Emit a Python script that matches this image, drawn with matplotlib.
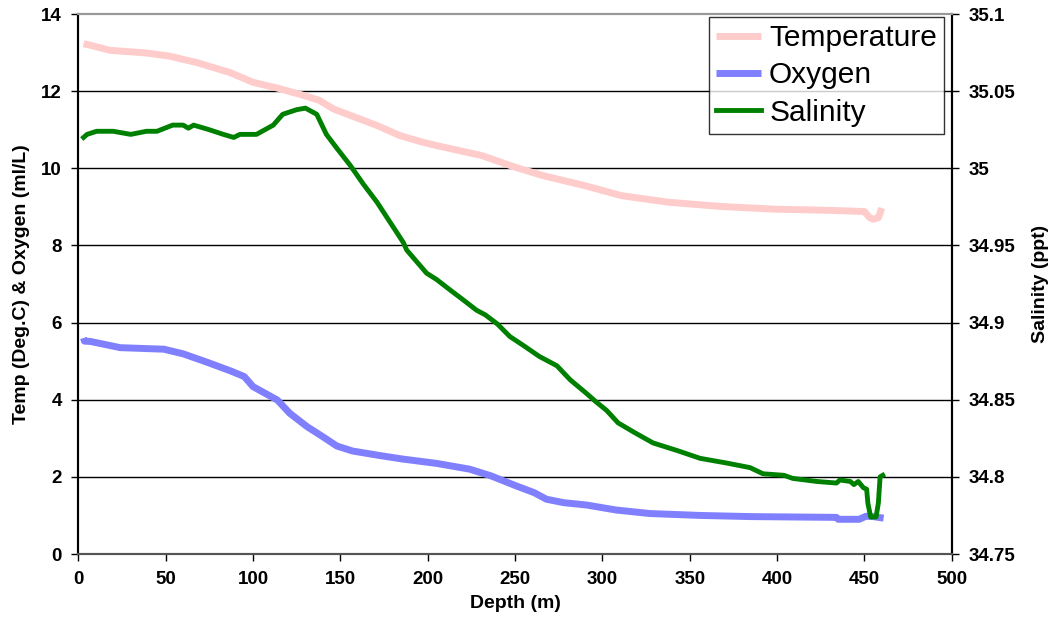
import matplotlib.pyplot as plt

plt.rcParams['font.family'] = ['Liberation Sans', 'DejaVu Sans']

# Temperature profile (Deg.C)
temp_depth = [3, 7, 18, 39, 52, 68, 87, 100, 114, 129, 138, 146, 157, 171, 184,
              196, 205, 231, 250, 266, 290, 311, 338, 368, 399, 430, 450, 453,
              455, 458, 460]
temp = [13.23, 13.19, 13.06, 12.99, 12.91, 12.74, 12.48, 12.23, 12.08, 11.89,
        11.76, 11.54, 11.35, 11.11, 10.85, 10.69, 10.59, 10.33, 10.03, 9.81,
        9.55, 9.29, 9.12, 9.01, 8.94, 8.91, 8.88, 8.72, 8.68, 8.72, 8.97]

# Oxygen profile (ml/L)
oxy_depth = [3, 3.5, 7, 24, 49, 60, 72, 87, 95, 100, 114, 121, 131, 140, 148,
             157, 173, 186, 205, 224, 236, 241, 251, 261, 268, 278, 291, 308,
             327, 356, 385, 434, 435, 447, 451, 455, 461]
oxy = [5.6, 5.52, 5.51, 5.35, 5.31, 5.19, 5.0, 4.75, 4.6, 4.34, 3.99, 3.65,
       3.30, 3.04, 2.80, 2.67, 2.55, 2.46, 2.35, 2.20, 2.03, 1.94, 1.76, 1.59,
       1.42, 1.33, 1.27, 1.14, 1.05, 1.00, 0.97, 0.95, 0.90, 0.90, 0.98, 0.97,
       0.93]

# Salinity profile (ppt)
sal_depth = [3, 5, 10.5, 20, 30, 39, 45, 54, 60, 63, 66, 75, 83, 89, 92.5, 102,
             111.6, 117, 125, 130, 136.5, 142, 148, 155.6, 163, 171, 178.5, 186,
             188, 199.4, 205, 213, 220, 228, 233, 240, 247, 255, 264, 274,
             281.5, 291, 296, 302.5, 309, 318, 329, 343, 356, 371, 384.5, 392,
             404, 409, 423, 434, 436, 442, 444, 446.5, 449.4, 451.3, 452,
             453.6, 456.7, 458, 459, 460.5]
sal = [35.020, 35.022, 35.024, 35.024, 35.022, 35.024, 35.024, 35.028, 35.028,
       35.026, 35.028, 35.025, 35.022, 35.020, 35.022, 35.022, 35.028, 35.035,
       35.038, 35.039, 35.035, 35.022, 35.013, 35.002, 34.990, 34.978, 34.965,
       34.952, 34.947, 34.932, 34.928, 34.921, 34.915, 34.908, 34.905, 34.899,
       34.891, 34.885, 34.878, 34.872, 34.863, 34.854, 34.849, 34.843, 34.835,
       34.829, 34.822, 34.817, 34.812, 34.809, 34.806, 34.802, 34.801, 34.799,
       34.797, 34.796, 34.798, 34.797, 34.795, 34.797, 34.793, 34.792, 34.783,
       34.774, 34.774, 34.783, 34.800, 34.801]

fig = plt.figure(figsize=(10.5, 6.32), dpi=100)
ax = fig.add_axes([0.0746, 0.1234, 0.8318, 0.8544])
ax2 = ax.twinx()

l1, = ax.plot(temp_depth, temp, color='#FFCCCC', lw=5, label='Temperature',
              solid_capstyle='butt')
l2, = ax.plot(oxy_depth, oxy, color='#8080FF', lw=5, label='Oxygen',
              solid_capstyle='butt')
l3, = ax2.plot(sal_depth, sal, color='#008000', lw=3.5, label='Salinity')

ax.set_xlim(0, 500)
ax.set_ylim(0, 14)
ax2.set_ylim(34.75, 35.1)
ax.set_xticks(range(0, 501, 50))
ax.set_yticks(range(0, 15, 2))
ax2.set_yticks([34.75, 34.8, 34.85, 34.9, 34.95, 35.0, 35.05, 35.1])
ax2.set_yticklabels(['34.75', '34.8', '34.85', '34.9', '34.95', '35', '35.05', '35.1'])

for y in range(2, 14, 2):
    ax.axhline(y, color='black', lw=1, zorder=0)

ax.tick_params(axis='both', labelsize=13.5, length=5, width=1, pad=7)
ax2.tick_params(axis='y', labelsize=13.5, length=5, width=1, pad=7)
for lab in ax.get_xticklabels() + ax.get_yticklabels() + ax2.get_yticklabels():
    lab.set_fontweight('bold')

ax.set_xlabel('Depth (m)', fontsize=14, fontweight='bold', labelpad=5)
ax.set_ylabel('Temp (Deg.C) & Oxygen (ml/L)', fontsize=14, fontweight='bold', labelpad=8)
ax2.set_ylabel('Salinity (ppt)', fontsize=14, fontweight='bold', labelpad=12)

for a in (ax, ax2):
    a.spines['top'].set_color('#999999')
    a.spines['top'].set_linewidth(1.5)
    a.spines['left'].set_linewidth(1.5)
    a.spines['right'].set_linewidth(1.5)
    a.spines['bottom'].set_linewidth(1.5)
    a.spines['bottom'].set_color('#555555')

leg = ax2.legend(handles=[l1, l2, l3], loc='upper right',
                 bbox_to_anchor=(0.991, 0.994), borderaxespad=0, fontsize=21.5,
                 frameon=True, fancybox=False, handlelength=1.5,
                 handletextpad=0.27, labelspacing=0.31, borderpad=0.23)
leg.get_frame().set_edgecolor('black')
leg.get_frame().set_linewidth(1)

fig.savefig('out.png', dpi=100)
